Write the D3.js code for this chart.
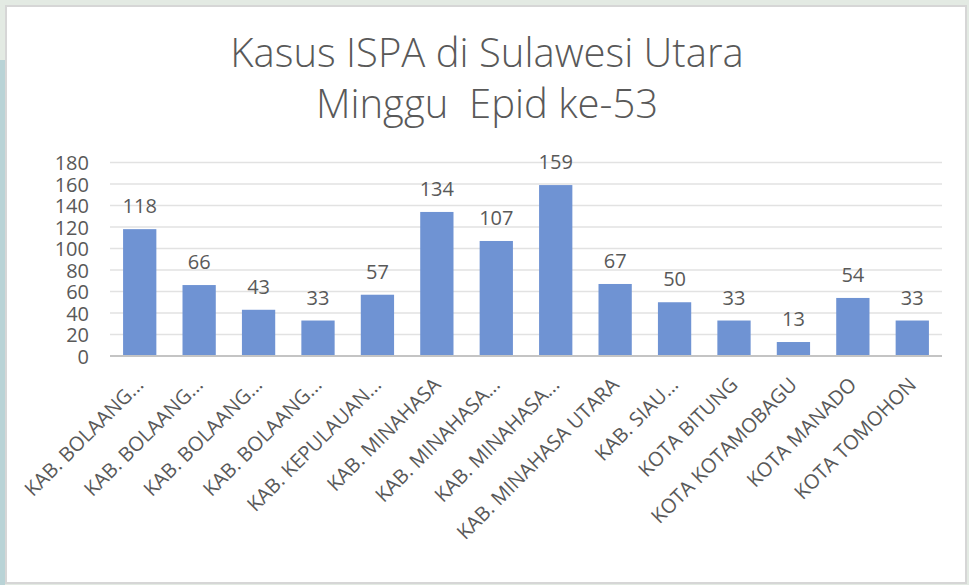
<!DOCTYPE html>
<html><head><meta charset="utf-8">
<script src="https://cdn.jsdelivr.net/npm/d3@7"></script>
<style>body{margin:0;background:#e6ece6;}svg{display:block;}</style>
</head><body>
<svg id="c" width="969" height="585"></svg>
<script>
const categories = ["KAB. BOLAANG...","KAB. BOLAANG...","KAB. BOLAANG...","KAB. BOLAANG...","KAB. KEPULAUAN...","KAB. MINAHASA","KAB. MINAHASA...","KAB. MINAHASA...","KAB. MINAHASA UTARA","KAB. SIAU...","KOTA BITUNG","KOTA KOTAMOBAGU","KOTA MANADO","KOTA TOMOHON"];
const values = [118,66,43,33,57,134,107,159,67,50,33,13,54,33];
const yTicks = [0,20,40,60,80,100,120,140,160,180];
const titleLines = ["Kasus ISPA di Sulawesi Utara","Minggu  Epid ke-53"];

const svg = d3.select("#c");
const font = "'Open Sans', 'Noto Sans', sans-serif";
const textColor = "#595959";

// frame
svg.append("rect").attr("x",0).attr("y",0).attr("width",969).attr("height",585).attr("fill","#e3eae3");
svg.append("rect").attr("x",0).attr("y",60).attr("width",5).attr("height",525).attr("fill","#b9d3d6");
svg.append("rect").attr("x",5).attr("y",5).attr("width",962).attr("height",579).attr("fill","#d6d6d6");
svg.append("rect").attr("x",7).attr("y",7).attr("width",958).attr("height",575).attr("fill","#ffffff");

const plot = {left:110, right:942, top:162.5, bottom:356};
const x = d3.scaleBand().domain(d3.range(categories.length)).range([plot.left, plot.right]).paddingInner(0.44).paddingOuter(0.22);
const y = d3.scaleLinear().domain([0,180]).range([plot.bottom, plot.top]);

// gridlines
svg.append("g").selectAll("line").data(yTicks.filter(d=>d>0)).join("line")
  .attr("x1",plot.left).attr("x2",plot.right)
  .attr("y1",d=>y(d)).attr("y2",d=>y(d))
  .attr("stroke","#e2e2e2").attr("stroke-width",1.5);

// y axis labels
const yAxis = d3.axisLeft(y).tickValues(yTicks).tickSize(0).tickPadding(0);
const gy = svg.append("g").attr("transform",`translate(${89},0)`).call(yAxis);
gy.select(".domain").remove();
gy.selectAll("text").attr("font-family",font).attr("font-size",20).attr("fill",textColor).attr("dy","0.36em");

// bars
svg.append("g").selectAll("rect").data(values).join("rect")
  .attr("x",(d,i)=>x(i)).attr("width",x.bandwidth())
  .attr("y",d=>y(d)).attr("height",d=>y(0)-y(d))
  .attr("fill","#6f93d3");

// axis baseline
svg.append("line").attr("x1",plot.left).attr("x2",plot.right).attr("y1",y(0)).attr("y2",y(0))
  .attr("stroke","#c4c4c4").attr("stroke-width",2);

// data labels
svg.append("g").selectAll("text").data(values).join("text")
  .attr("x",(d,i)=>x(i)+x.bandwidth()/2).attr("y",d=>y(d)-16)
  .attr("text-anchor","middle").attr("font-family",font).attr("font-size",20).attr("fill",textColor)
  .text(d=>d);

// x labels
const xAxis = d3.axisBottom(x).tickFormat(i=>categories[i]).tickSize(0).tickPadding(0);
const gx = svg.append("g").attr("transform",`translate(0,${y(0)})`).call(xAxis);
gx.select(".domain").remove();
gx.selectAll("text")
  .attr("font-family",font).attr("font-size",20).attr("fill",textColor)
  .attr("text-anchor","end").attr("dy",0).attr("y",0)
  .attr("transform","translate(5,30) rotate(-45)");

// title
svg.append("g").selectAll("text").data(titleLines).join("text")
  .attr("x",487).attr("y",(d,i)=>67+i*51)
  .attr("text-anchor","middle").attr("font-family",font).attr("font-weight",300)
  .attr("font-size",40).attr("fill",textColor)
  .attr("xml:space","preserve")
  .text(d=>d);
</script>
</body></html>
